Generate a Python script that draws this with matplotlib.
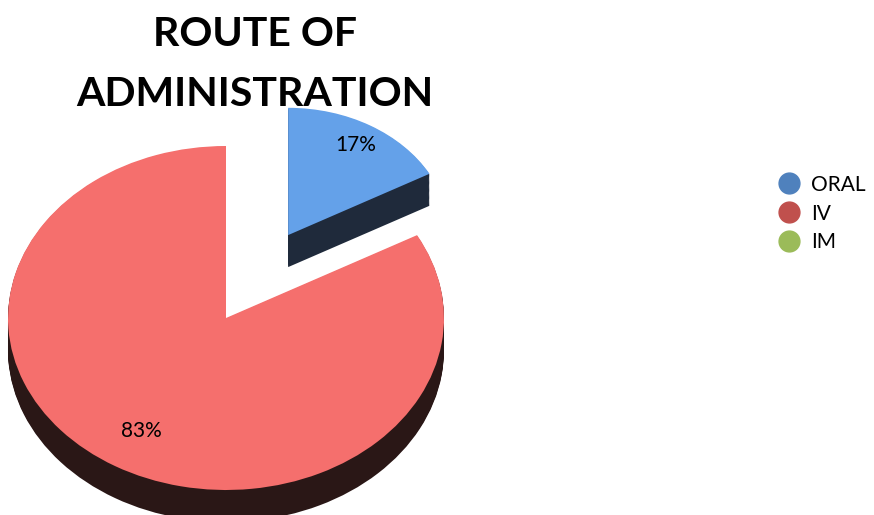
import matplotlib
matplotlib.use("Agg")
import numpy as np
import matplotlib.pyplot as plt
from matplotlib.lines import Line2D

plt.rcParams['font.family'] = ['Lato', 'DejaVu Sans']

# data
routes = ["ORAL", "IV", "IM"]
shares = [17, 83, 0]
legend_colors = ["#4F81BD", "#C0504D", "#9BBB59"]
top_colors = ["#64A1E9", "#F56F6D", "#9BBB59"]
side_colors = ["#1F2A3B", "#2A1716", "#3B4A22"]
explode = [0.56, 0, 0]

W, H = 874, 515
# ellipse of the tilted pie (pixels)
CX, CY, RX, RY = 226, 318, 218, 172
DEPTH = 32 / RY
ORAL_RADIUS = 0.74


def pct_label(p):
    return "" if p < 0.5 else f"{p:.0f}%"


def draw_pie(ax, dz, colors, zorders, autopct=None):
    out = ax.pie(shares, explode=explode, colors=colors, startangle=90,
                 counterclock=False, center=(0, -dz), autopct=autopct,
                 pctdistance=0.8, wedgeprops=dict(linewidth=0))
    wedges = out[0]
    wedges[0].set_radius(ORAL_RADIUS)
    for w, z in zip(wedges, zorders):
        w.set_zorder(z)
    return out


fig = plt.figure(figsize=(W / 100, H / 100), dpi=100)
ax = fig.add_axes([0, 0, 1, 1])

# side walls: stacked dark layers
for dz in np.linspace(DEPTH, 0.005, 28):
    draw_pie(ax, dz, side_colors, [1, 3, 3])

wedges, _, autotexts = draw_pie(ax, 0, top_colors, [2, 4, 4], autopct=pct_label)

# keep the ORAL label inside the shrunken, exploded slice
for w, t, d in zip(wedges, autotexts, [0.82, 0.76, 0.8]):
    t.set_fontsize(15)
    t.set_color("black")
    t.set_zorder(6)
    theta = np.deg2rad((w.theta1 + w.theta2) / 2)
    cx, cy = w.center
    t.set_position((cx + d * w.r * np.cos(theta), cy + d * w.r * np.sin(theta)))

ax.set_aspect("auto")
ax.set_xlim(-CX / RX, (W - CX) / RX)
ax.set_ylim((CY - H) / RY, CY / RY)
ax.axis("off")

fig.text(255 / W, 1 - 35 / H, "ROUTE OF", ha="center", va="center",
         fontsize=29.5, fontweight="bold", zorder=10)
fig.text(255 / W, 1 - 95 / H, "ADMINISTRATION", ha="center", va="center",
         fontsize=29.5, fontweight="bold", zorder=10)

handles = [Line2D([], [], marker="o", linestyle="none", markersize=15,
                  markerfacecolor=c, markeredgecolor=c) for c in legend_colors]
fig.legend(handles, routes, loc="upper left", bbox_to_anchor=(758 / W, 1 - 156 / H),
           frameon=False, fontsize=15, handletextpad=0.45, labelspacing=0.42,
           handlelength=1.2)

fig.savefig("out.png", dpi=100)
